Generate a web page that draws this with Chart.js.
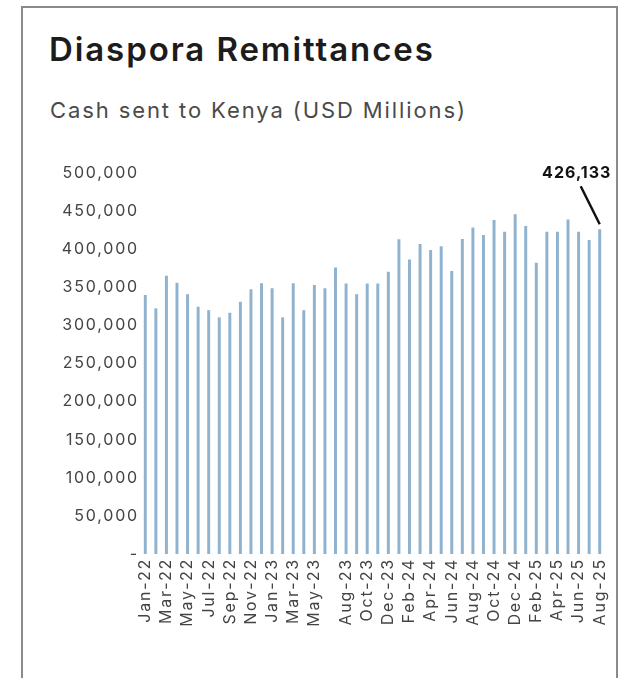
<!DOCTYPE html>
<html>
<head>
<meta charset="utf-8">
<script src="https://cdn.jsdelivr.net/npm/chart.js@4/dist/chart.umd.min.js"></script>
<style>
  html, body { margin: 0; padding: 0; background: #fff; }
  body { width: 631px; height: 678px; position: relative; overflow: hidden; font-family: Inter, "Liberation Sans", sans-serif; }
  .frame { position: absolute; left: 21px; top: 6px; width: 593px; height: 720px; border: 2px solid #8a8a8a; }
  h1 { position: absolute; left: 49px; top: 30px; margin: 0; font-size: 33px; line-height: 38px; font-weight: 600; color: #1c1c1c; letter-spacing: 1.9px; }
  .sub { position: absolute; left: 50px; top: 97px; margin: 0; font-size: 22px; line-height: 26px; color: #4a4a4a; letter-spacing: 1.9px; }
  #chart { position: absolute; left: 0; top: 0; }
</style>
</head>
<body>
<div class="frame"></div>
<h1>Diaspora Remittances</h1>
<p class="sub">Cash sent to Kenya (USD Millions)</p>
<canvas id="chart" width="631" height="678"></canvas>
<script>
// monthly remittance inflows, Jan-22 .. Aug-25
const months = [
  'Jan-22', 'Feb-22', 'Mar-22', 'Apr-22', 'May-22', 'Jun-22', 'Jul-22', 'Aug-22', 'Sep-22', 'Oct-22', 'Nov-22', 'Dec-22',
  'Jan-23', 'Feb-23', 'Mar-23', 'Apr-23', 'May-23', 'Jun-23', 'Jul-23', 'Aug-23', 'Sep-23', 'Oct-23', 'Nov-23', 'Dec-23',
  'Jan-24', 'Feb-24', 'Mar-24', 'Apr-24', 'May-24', 'Jun-24', 'Jul-24', 'Aug-24', 'Sep-24', 'Oct-24', 'Nov-24', 'Dec-24',
  'Jan-25', 'Feb-25', 'Mar-25', 'Apr-25', 'May-25', 'Jun-25', 'Jul-25', 'Aug-25'
];
const remittances = [
  340000, 322400, 365100, 356000, 341000, 324500, 320000, 310500, 316600, 331000, 347500, 355200,
  348600, 310500, 355200, 320000, 353000, 348600, 376000, 355000, 341000, 355000, 355000, 370400,
  412900, 386600, 406700, 398800, 404000, 371300, 413500, 428600, 418500, 438200, 422900, 446000,
  430300, 382200, 422900, 422900, 439000, 422900, 412000, 426133
];
// months that get a label on the x axis
const shownMonths = [
  'Jan-22', 'Mar-22', 'May-22', 'Jul-22', 'Sep-22', 'Nov-22', 'Jan-23', 'Mar-23', 'May-23', 'Aug-23', 'Oct-23',
  'Dec-23', 'Feb-24', 'Apr-24', 'Jun-24', 'Aug-24', 'Oct-24', 'Dec-24', 'Feb-25', 'Apr-25', 'Jun-25', 'Aug-25'
];
const yTicks = [0, 50000, 100000, 150000, 200000, 250000, 300000, 350000, 400000, 450000, 500000];

const fmt = v => v === 0 ? '-' : v.toLocaleString('en-US');

// slightly wider text spacing on the canvas
const spacing = {
  id: 'spacing',
  beforeUpdate(chart) { chart.ctx.letterSpacing = '1.8px'; },
  beforeDraw(chart) { chart.ctx.letterSpacing = '1.8px'; }
};

// callout on the latest month
const lastLabel = {
  id: 'lastLabel',
  afterDatasetsDraw(chart) {
    const meta = chart.getDatasetMeta(0);
    const i = remittances.length - 1;
    const bar = meta.data[i];
    const ctx = chart.ctx;
    ctx.save();
    ctx.strokeStyle = '#111';
    ctx.lineWidth = 2.5;
    ctx.beginPath();
    ctx.moveTo(bar.x - 19, bar.y - 43);
    ctx.lineTo(bar.x, bar.y - 5);
    ctx.stroke();
    ctx.fillStyle = '#111';
    ctx.font = '700 16px Inter, "Liberation Sans", sans-serif';
    ctx.letterSpacing = '1px';
    ctx.textAlign = 'center';
    ctx.textBaseline = 'middle';
    ctx.fillText(fmt(remittances[i]), bar.x - 23, bar.y - 56);
    ctx.restore();
  }
};

const ctx = document.getElementById('chart').getContext('2d');
new Chart(ctx, {
  type: 'bar',
  data: {
    labels: months,
    datasets: [{
      label: 'Remittances',
      data: remittances,
      backgroundColor: '#8fb2cf',
      borderWidth: 0,
      barPercentage: 0.56,
      categoryPercentage: 0.5
    }]
  },
  options: {
    responsive: false,
    animation: false,
    devicePixelRatio: 1,
    layout: { padding: { top: 173, right: 26, left: 0, bottom: 0 } },
    plugins: {
      legend: { display: false },
      tooltip: { enabled: false }
    },
    scales: {
      x: {
        grid: { display: false, drawTicks: false },
        border: { display: false },
        afterFit(scale) { scale.height = 124; },
        ticks: {
          autoSkip: false,
          minRotation: 90,
          maxRotation: 90,
          padding: 4,
          color: '#444',
          font: { family: 'Inter, "Liberation Sans", sans-serif', size: 16 },
          callback(value, index) {
            const m = months[index];
            return shownMonths.includes(m) ? m : '';
          }
        }
      },
      y: {
        min: 0,
        max: 500000,
        grid: { display: false, drawTicks: false },
        border: { display: false },
        afterFit(scale) { scale.width = 140; },
        afterBuildTicks(scale) { scale.ticks = yTicks.map(v => ({ value: v })); },
        ticks: {
          padding: 1,
          color: '#444',
          font: { family: 'Inter, "Liberation Sans", sans-serif', size: 16 },
          callback: v => fmt(v)
        }
      }
    }
  },
  plugins: [spacing, lastLabel]
});
</script>
</body>
</html>
